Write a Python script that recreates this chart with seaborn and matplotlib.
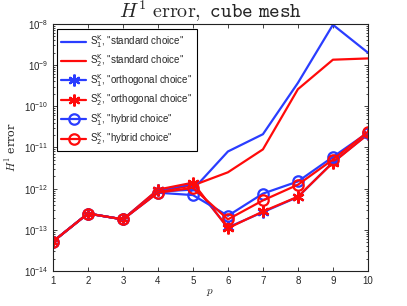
import numpy as np
import pandas as pd
import matplotlib
matplotlib.use("Agg")
import matplotlib.pyplot as plt
import seaborn as sns

# ===================== Data =====================
p = [1, 2, 3, 4, 5, 6, 7, 8, 9, 10]

s1_standard   = [5.2e-14, 2.5e-13, 1.8e-13, 8.5e-13, 9.5e-13, 8.0e-12, 2.1e-11, 3.7e-10, 9.5e-9, 2.0e-9]
s2_standard   = [5.2e-14, 2.5e-13, 1.8e-13, 8.5e-13, 1.2e-12, 2.5e-12, 9.0e-12, 2.6e-10, 1.35e-9, 1.45e-9]
s1_orthogonal = [5.2e-14, 2.5e-13, 1.8e-13, 9.3e-13, 1.3e-12, 1.15e-13, 2.7e-13, 6.3e-13, 4.4e-12, 2.1e-11]
s2_orthogonal = [5.2e-14, 2.5e-13, 1.8e-13, 9.5e-13, 1.4e-12, 1.1e-13, 2.8e-13, 6.4e-13, 4.3e-12, 2.1e-11]
s1_hybrid     = [5.2e-14, 2.5e-13, 1.8e-13, 8.0e-13, 7.0e-13, 2.2e-13, 7.6e-13, 1.5e-12, 5.9e-12, 2.3e-11]
s2_hybrid     = [5.2e-14, 2.5e-13, 1.8e-13, 8.0e-13, 1.05e-12, 1.8e-13, 5.2e-13, 1.25e-12, 5.1e-12, 2.4e-11]

labels = [
    r'S$_1^{\mathrm{K}}$, "standard choice"',
    r'S$_2^{\mathrm{K}}$, "standard choice"',
    r'S$_1^{\mathrm{K}}$, "orthogonal choice"',
    r'S$_2^{\mathrm{K}}$, "orthogonal choice"',
    r'S$_1^{\mathrm{K}}$, "hybrid choice"',
    r'S$_2^{\mathrm{K}}$, "hybrid choice"',
]
series = [s1_standard, s2_standard, s1_orthogonal, s2_orthogonal, s1_hybrid, s2_hybrid]
yticks = [1e-14, 1e-13, 1e-12, 1e-11, 1e-10, 1e-9, 1e-8]

# ===================== Style =====================
sns.set_style("ticks")
plt.rcParams['font.family'] = ['Liberation Sans', 'DejaVu Sans']
plt.rcParams['xtick.direction'] = 'in'
plt.rcParams['ytick.direction'] = 'in'

blue = '#2a3dff'
red = '#ff0a0a'
colors = [blue, red, blue, red, blue, red]
asterisk = (6, 2, 0)
markers = [None, None, asterisk, asterisk, 'o', 'o']

fig = plt.figure(figsize=(4.07, 3.06), dpi=100)
ax = fig.add_axes([0.130, 0.114, 0.774, 0.808])

for vals, lab, col, mk in zip(series, labels, colors, markers):
    df = pd.DataFrame({'p': p, 'err': vals})
    kw = dict(color=col, linewidth=1.6, label=lab)
    if mk == 'o':
        kw.update(marker='o', markersize=7.5, markerfacecolor='none',
                  markeredgecolor=col, markeredgewidth=1.6)
    elif mk is not None:
        kw.update(marker=mk, markersize=8.5, markeredgecolor=col, markeredgewidth=1.6)
    sns.lineplot(data=df, x='p', y='err', ax=ax, **kw)

ax.set_yscale('log')
ax.set_xlim(1, 10)
ax.set_ylim(1e-14, 1e-8)
ax.set_xticks(p)
ax.set_yticks(yticks)
ax.tick_params(axis='both', which='both', labelsize=7, top=True, right=True,
               length=3, width=0.6)
ax.tick_params(axis='both', which='minor', length=1.5)
for sp in ax.spines.values():
    sp.set_linewidth(0.8)
    sp.set_color('#222222')

ax.set_xlabel(r'$p$', fontsize=8, math_fontfamily='cm', labelpad=1)
ax.set_ylabel(r'$H^1$ error', fontsize=8, family='DejaVu Serif',
              math_fontfamily='cm', labelpad=4)
ax.set_title(r'$H^1\ \mathrm{error,}\ \mathtt{cube\ mesh}$', fontsize=14.5,
             math_fontfamily='cm', pad=4)

leg = ax.legend(loc='upper left', fontsize=7, frameon=True, fancybox=False,
                edgecolor='black', framealpha=1, labelspacing=0.27,
                handlelength=2.6, handletextpad=0.4, borderpad=0.45,
                borderaxespad=0.0, bbox_to_anchor=(0.012, 0.98))
leg.get_frame().set_linewidth(0.8)

fig.savefig('out.png', dpi=100)
